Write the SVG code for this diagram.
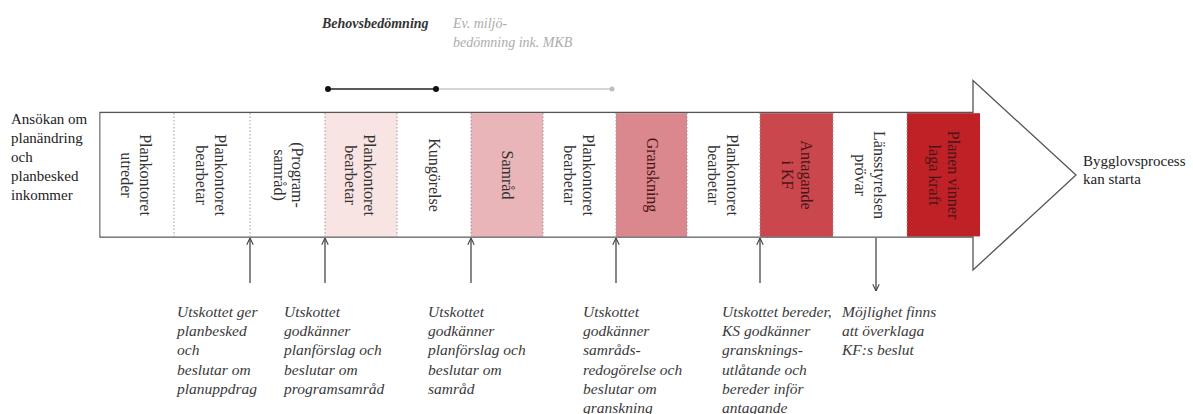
<svg xmlns="http://www.w3.org/2000/svg" width="1193" height="414" viewBox="0 0 1193 414">
  <style>
    text { font-family: "Liberation Serif", "Times New Roman", serif; }
    .seg { font-size: 16px; fill: #333; text-anchor: middle; }
    .segdark { font-size: 16px; fill: #4a1416; text-anchor: middle; }
    .side { font-size: 15px; fill: #222; }
    .note { font-size: 15.5px; font-style: italic; fill: #3a3a3a; }
    .div { stroke: #9a9a9a; stroke-width: 1; stroke-dasharray: 1.5 2; fill: none; }
    .conn { stroke: #555; stroke-width: 1.4; fill: none; }
  </style>
  <defs>
    <marker id="ah" viewBox="0 0 10 10" refX="9.5" refY="5" markerWidth="8" markerHeight="8" markerUnits="userSpaceOnUse" orient="auto">
      <path d="M1,1 L9.5,5 L1,9" fill="none" stroke="#444" stroke-width="1.4"/>
    </marker>
  </defs>
  <rect width="1193" height="414" fill="#ffffff"/>

  <!-- top assessment timeline -->
  <g id="assessment">
    <text x="322" y="28" font-size="14" font-weight="bold" font-style="italic" fill="#333">Behovsbedömning</text>
    <text x="453" y="28" font-size="14" font-style="italic" fill="#acacac">Ev. miljö-</text>
    <text x="453" y="47" font-size="14" font-style="italic" fill="#acacac">bedömning ink. MKB</text>
    <line x1="436" y1="89" x2="612" y2="89" stroke="#c9c9c9" stroke-width="1.6"/>
    <line x1="328" y1="89" x2="436" y2="89" stroke="#222" stroke-width="1.6"/>
    <circle cx="328" cy="89" r="3" fill="#111"/>
    <circle cx="436" cy="89" r="3" fill="#111"/>
    <circle cx="612" cy="89" r="2.5" fill="#bdbdbd"/>
  </g>

  <!-- main arrow -->
  <g id="arrow">
    <path d="M100,112.5 H973 V80.5 L1076,175 L973,270 V237 H100 Z" fill="#fff" stroke="#555" stroke-width="1.3"/>
  </g>

  <g id="seg1"><rect x="100.6" y="113.2" width="73.4" height="123.2" fill="#fff"/>
    <text class="seg" transform="translate(137,175) rotate(90)"><tspan x="0" y="-3">Plankontoret</tspan><tspan x="0" y="16">utreder</tspan></text></g>
  <g id="seg2"><rect x="174" y="113.2" width="76" height="123.2" fill="#fff"/>
    <text class="seg" transform="translate(212,175) rotate(90)"><tspan x="0" y="-3">Plankontoret</tspan><tspan x="0" y="16">bearbetar</tspan></text></g>
  <g id="seg3"><rect x="250" y="113.2" width="75" height="123.2" fill="#fff"/>
    <text class="seg" transform="translate(287.5,175) rotate(90)"><tspan x="0" y="-4">(Program-</tspan><tspan x="0" y="14">samråd)</tspan></text></g>
  <g id="seg4"><rect x="325" y="113.2" width="72" height="123.2" fill="#f9e4e4"/>
    <text class="seg" transform="translate(361,175) rotate(90)"><tspan x="0" y="-3">Plankontoret</tspan><tspan x="0" y="16">bearbetar</tspan></text></g>
  <g id="seg5"><rect x="397" y="113.2" width="74" height="123.2" fill="#fff"/>
    <text class="seg" transform="translate(434,175) rotate(90)" y="5">Kungörelse</text></g>
  <g id="seg6"><rect x="471" y="113.2" width="72" height="123.2" fill="#e9b5b8"/>
    <text class="seg" transform="translate(507,175) rotate(90)" y="5">Samråd</text></g>
  <g id="seg7"><rect x="543" y="113.2" width="73" height="123.2" fill="#fff"/>
    <text class="seg" transform="translate(579.5,175) rotate(90)"><tspan x="0" y="-3">Plankontoret</tspan><tspan x="0" y="16">bearbetar</tspan></text></g>
  <g id="seg8"><rect x="616" y="113.2" width="71" height="123.2" fill="#da878d"/>
    <text class="segdark" transform="translate(651.5,175) rotate(90)" y="5">Granskning</text></g>
  <g id="seg9"><rect x="687" y="113.2" width="73" height="123.2" fill="#fff"/>
    <text class="seg" transform="translate(723.5,175) rotate(90)"><tspan x="0" y="-3">Plankontoret</tspan><tspan x="0" y="16">bearbetar</tspan></text></g>
  <g id="seg10"><rect x="760" y="113.2" width="73" height="123.2" fill="#c9474d"/>
    <text class="segdark" transform="translate(796.5,175) rotate(90)"><tspan x="0" y="-4">Antagande</tspan><tspan x="0" y="15">i KF</tspan></text></g>
  <g id="seg11"><rect x="833" y="113.2" width="74" height="123.2" fill="#fff"/>
    <text class="seg" transform="translate(870,175) rotate(90)"><tspan x="0" y="-4">Länsstyrelsen</tspan><tspan x="0" y="15">prövar</tspan></text></g>
  <g id="seg12"><rect x="907" y="113.2" width="73" height="123.2" fill="#bf2127"/>
    <text class="segdark" transform="translate(943.5,175) rotate(90)"><tspan x="0" y="-4">Planen vinner</tspan><tspan x="0" y="15">laga kraft</tspan></text></g>

  <g id="dividers">
    <line class="div" x1="174" y1="113" x2="174" y2="236.5"/>
    <line class="div" x1="250" y1="113" x2="250" y2="236.5"/>
    <line class="div" x1="325" y1="113" x2="325" y2="236.5"/>
    <line class="div" x1="397" y1="113" x2="397" y2="236.5"/>
    <line class="div" x1="471" y1="113" x2="471" y2="236.5"/>
    <line class="div" x1="543" y1="113" x2="543" y2="236.5"/>
    <line class="div" x1="616" y1="113" x2="616" y2="236.5"/>
    <line class="div" x1="687" y1="113" x2="687" y2="236.5"/>
    <line class="div" x1="760" y1="113" x2="760" y2="236.5"/>
    <line class="div" x1="833" y1="113" x2="833" y2="236.5"/>
    <line class="div" x1="907" y1="113" x2="907" y2="236.5"/>
  </g>

  <g id="start">
    <text class="side" x="11" y="124">Ansökan om</text>
    <text class="side" x="11" y="143">planändring</text>
    <text class="side" x="11" y="162">och</text>
    <text class="side" x="11" y="181">planbesked</text>
    <text class="side" x="11" y="200">inkommer</text>
  </g>
  <g id="end">
    <text class="side" x="1083" y="166">Bygglovsprocess</text>
    <text class="side" x="1083" y="184">kan starta</text>
  </g>

  <g id="connectors">
    <line class="conn" x1="250" y1="283" x2="250" y2="238" marker-end="url(#ah)"/>
    <line class="conn" x1="325" y1="283" x2="325" y2="238" marker-end="url(#ah)"/>
    <line class="conn" x1="471" y1="283" x2="471" y2="238" marker-end="url(#ah)"/>
    <line class="conn" x1="616" y1="283" x2="616" y2="238" marker-end="url(#ah)"/>
    <line class="conn" x1="760" y1="283" x2="760" y2="238" marker-end="url(#ah)"/>
    <line class="conn" x1="876" y1="238" x2="876" y2="291" marker-end="url(#ah)"/>
  </g>

  <g id="note1">
    <text class="note" x="177" y="317">Utskottet ger</text>
    <text class="note" x="177" y="336.2">planbesked</text>
    <text class="note" x="177" y="355.4">och</text>
    <text class="note" x="177" y="374.6">beslutar om</text>
    <text class="note" x="177" y="393.8">planuppdrag</text>
  </g>
  <g id="note2">
    <text class="note" x="284" y="317">Utskottet</text>
    <text class="note" x="284" y="336.2">godkänner</text>
    <text class="note" x="284" y="355.4">planförslag och</text>
    <text class="note" x="284" y="374.6">beslutar om</text>
    <text class="note" x="284" y="393.8">programsamråd</text>
  </g>
  <g id="note3">
    <text class="note" x="428" y="317">Utskottet</text>
    <text class="note" x="428" y="336.2">godkänner</text>
    <text class="note" x="428" y="355.4">planförslag och</text>
    <text class="note" x="428" y="374.6">beslutar om</text>
    <text class="note" x="428" y="393.8">samråd</text>
  </g>
  <g id="note4">
    <text class="note" x="583" y="317">Utskottet</text>
    <text class="note" x="583" y="336.2">godkänner</text>
    <text class="note" x="583" y="355.4">samråds-</text>
    <text class="note" x="583" y="374.6">redogörelse och</text>
    <text class="note" x="583" y="393.8">beslutar om</text>
    <text class="note" x="583" y="413">granskning</text>
  </g>
  <g id="note5">
    <text class="note" x="722" y="317">Utskottet bereder,</text>
    <text class="note" x="722" y="336.2">KS godkänner</text>
    <text class="note" x="722" y="355.4">gransknings-</text>
    <text class="note" x="722" y="374.6">utlåtande och</text>
    <text class="note" x="722" y="393.8">bereder inför</text>
    <text class="note" x="722" y="413">antagande</text>
  </g>
  <g id="note6">
    <text class="note" x="842" y="317">Möjlighet finns</text>
    <text class="note" x="842" y="336.2">att överklaga</text>
    <text class="note" x="842" y="355.4">KF:s beslut</text>
  </g>
</svg>
